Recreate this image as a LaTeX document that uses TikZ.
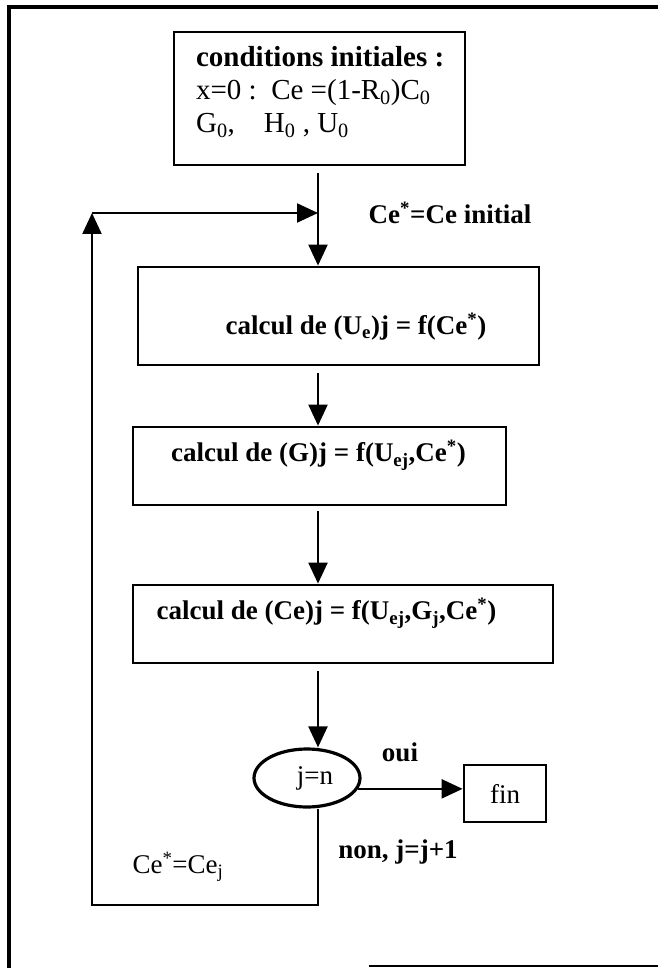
\documentclass[tikz,border=0pt]{standalone}
\usepackage{fontspec}
\setmainfont{Liberation Serif}
\usetikzlibrary{arrows.meta,shapes.geometric}

\begin{document}
\begin{tikzpicture}
    [x=1pt, y=-1pt, line width=2.2pt,
     >={Triangle[length=21pt, width=19pt]},
     box/.style={draw, line width=2.8pt, inner sep=0pt},
     txt/.style={font=\fontsize{27}{32}\selectfont, inner sep=0pt},
     btxt/.style={txt, font=\fontsize{27}{32}\selectfont\bfseries}]

    \useasboundingbox (0, 0) rectangle (658, 968);

    % cadre
    \draw [line width=4pt] (9, 968) -- (9, 7) -- (658, 7);
    \draw [line width=2.5pt] (369, 966) -- (658, 966);

    \node [box, minimum width=291pt, minimum height=133pt] at (319.5, 98.5) (init) {};
    \node [txt, font=\fontsize{29}{33}\selectfont, align=left, anchor=west] at (195, 92) (initt)
      {{\bfseries conditions initiales :}\\
       x=0 :\ \ Ce =(1-R\textsubscript{0})C\textsubscript{0}\\
       G\textsubscript{0},\quad H\textsubscript{0} ,\ U\textsubscript{0}};

    \node [box, minimum width=401pt, minimum height=98pt] at (338.5, 316) (cu) {};
    \node [btxt] at (356, 327) (cut) {calcul de (U\textsubscript{e})j = f(Ce\textsuperscript{*})};

    \node [box, minimum width=373pt, minimum height=78pt] at (319.5, 466) (cg) {};
    \node [btxt] at (318.5, 455) (cgt) {calcul de (G)j = f(U\textsubscript{ej},Ce\textsuperscript{*})};

    \node [box, minimum width=420pt, minimum height=78pt] at (343, 624) (cc) {};
    \node [btxt] at (326.5, 613) (cct) {calcul de (Ce)j = f(U\textsubscript{ej},G\textsubscript{j},Ce\textsuperscript{*})};

    \node [draw, ellipse, line width=3.2pt, inner sep=0pt, minimum width=106pt,
           minimum height=58pt, txt] at (307, 778) (dec) {\hspace{16pt}j=n};

    \node [box, minimum width=82pt, minimum height=57pt, txt] at (505, 793.5) (fin) {fin};

    \coordinate (junc) at (318, 213);
    \coordinate (corner) at (92, 213);
    \coordinate (botr) at (318, 905);
    \coordinate (botl) at (92, 905);

    \draw [->, shorten <=7pt] (init.south -| junc) -- (cu.north -| junc);
    \draw [->, shorten <=7pt] (cu.south -| junc) -- (cg.north -| junc);
    \draw [->, shorten <=5pt] (cg.south -| junc) -- (cc.north -| junc);
    \draw [->, shorten <=7pt] (cc.south -| junc) -- (dec.north -| junc);
    \draw [->] (dec.-12) -- (dec.-12 -| fin.west);

    \draw [->] (dec.south -| junc) -- (botr) -- (botl) -- (corner);
    \draw [->] (corner) -- (junc);

    \node [btxt] at (450, 213) (lbinit) {Ce\textsuperscript{*}=Ce initial};
    \node [btxt] at (400, 752) (lboui) {oui};
    \node [btxt] at (398, 852) (lbnon) {non, j=j+1};
    \node [txt] at (178, 867) (lbce) {Ce\textsuperscript{*}=Ce\textsubscript{j}};

  \end{tikzpicture}
\end{document}
